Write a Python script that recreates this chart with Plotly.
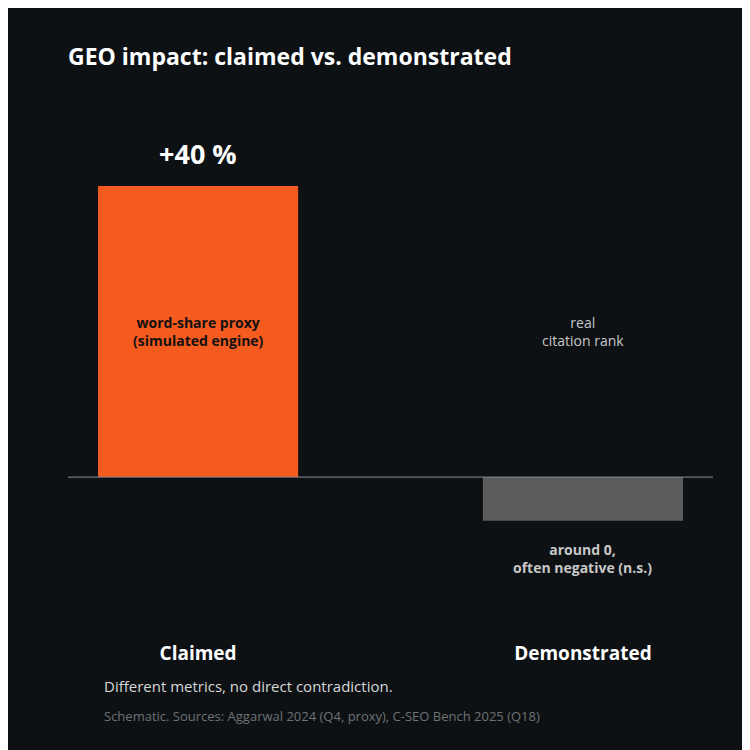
import plotly.graph_objects as go

categories = ["Claimed", "Demonstrated"]
values = [40, -6]
bar_colors = ["#f55a1f", "#5c5c5c"]
value_label = "+40 %"
inside_labels = ["<b>word-share proxy<br>(simulated engine)</b>", "real<br>citation rank"]
below_label = "<b>around 0,<br>often negative (n.s.)</b>"

FONT = "Open Sans"
BG = "#0d1114"

fig = go.Figure(go.Bar(
    x=[0, 1], y=values, marker_color=bar_colors, width=0.52,
    marker_line_width=0, hoverinfo="skip",
))

fig.add_hline(y=0, line_color="#8a8d90", line_width=1)

fig.add_annotation(x=0, y=values[0], text="<b>" + value_label + "</b>", yshift=32,
                   showarrow=False, font=dict(size=27, color="white", family=FONT))
fig.add_annotation(x=0, y=values[0] * 0.5, text=inside_labels[0], showarrow=False,
                   font=dict(size=14, color="#111111", family=FONT))
fig.add_annotation(x=1, y=values[0] * 0.5, text=inside_labels[1], showarrow=False,
                   font=dict(size=14, color="#c8c8c8", family=FONT))
fig.add_annotation(x=1, y=values[1], text=below_label, yshift=-38, showarrow=False,
                   font=dict(size=14, color="#c8c8c8", family=FONT))

fig.add_annotation(xref="paper", yref="paper", x=0.053, y=-0.113, xanchor="left",
                   text="Different metrics, no direct contradiction.", showarrow=False,
                   font=dict(size=15, color="#d8d8d8", family=FONT))
fig.add_annotation(xref="paper", yref="paper", x=0.053, y=-0.168, xanchor="left",
                   text="Schematic. Sources: Aggarwal 2024 (Q4, proxy), C-SEO Bench 2025 (Q18)",
                   showarrow=False, font=dict(size=13, color="#6f7275", family=FONT))

fig.update_layout(
    width=750, height=750,
    paper_bgcolor=BG, plot_bgcolor=BG,
    margin=dict(l=60, r=45, t=100, b=120),
    title=dict(text="<b>GEO impact: claimed vs. demonstrated</b>", x=0.08, xanchor="left",
               y=0.935, yanchor="middle", font=dict(size=23, color="white", family=FONT)),
    showlegend=False,
    xaxis=dict(range=[-0.338, 1.338], tickvals=[0, 1],
               ticktext=["<b>" + c + "</b>" for c in categories],
               tickfont=dict(size=19, color="white", family=FONT),
               showgrid=False, zeroline=False, showline=False, ticks="", ticklabelstandoff=2),
    yaxis=dict(range=[-22.1, 50.7], visible=False, showgrid=False, zeroline=False),
)

fig.write_html("out.html")
